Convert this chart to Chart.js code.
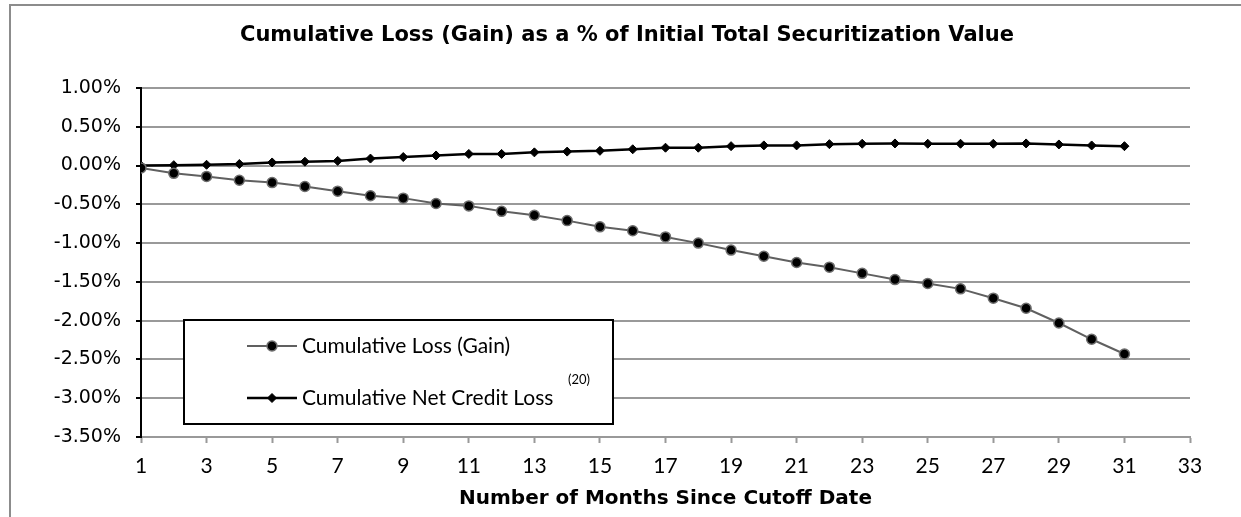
<!DOCTYPE html>
<html>
<head>
<meta charset="utf-8">
<title>Cumulative Loss (Gain)</title>
<script src="https://cdn.jsdelivr.net/npm/chart.js@4.4.1/dist/chart.umd.min.js"></script>
<style>
    html, body { margin: 0; padding: 0; background: #fff; }
    #wrap { position: relative; width: 1241px; height: 517px; }
</style>
</head>
<body>
<div id="wrap"><canvas id="chart"></canvas></div>
<script>
// Data (values in %)
const months = [1, 2, 3, 4, 5, 6, 7, 8, 9, 10, 11, 12, 13, 14, 15, 16, 17, 18, 19, 20,
    21, 22, 23, 24, 25, 26, 27, 28, 29, 30, 31];

const cumulativeLoss = [-0.03, -0.10, -0.14, -0.19, -0.22, -0.27, -0.33, -0.39, -0.42, -0.49,
    -0.52, -0.59, -0.64, -0.71, -0.79, -0.84, -0.92, -1.00, -1.09, -1.17,
    -1.25, -1.31, -1.39, -1.47, -1.52, -1.59, -1.71, -1.84, -2.03, -2.24, -2.43];

const netCreditLoss = [0.00, 0.005, 0.01, 0.02, 0.04, 0.05, 0.06, 0.09, 0.11, 0.13,
    0.15, 0.15, 0.17, 0.18, 0.19, 0.21, 0.23, 0.23, 0.25, 0.26,
    0.26, 0.276, 0.281, 0.285, 0.281, 0.281, 0.281, 0.285, 0.272, 0.259, 0.25];

const seriesNames = ['Cumulative Loss (Gain)', 'Cumulative Net Credit Loss'];
const footnote = '(20)';

const chartTitle = 'Cumulative Loss (Gain) as a % of Initial Total Securitization Value';
const xTitle = 'Number of Months Since Cutoff Date';

// x range / y range of the axes
const monthRange = [1, 33, 2];      // min, max, step
const percentRange = [-3.5, 1, 0.5];

const toPoints = (vals) => vals.map((v, i) => ({ x: months[i], y: v }));

// grey frame along the top and left edge, plus the title
// (the source centres the title a bit off the canvas middle, so it is drawn here)
const framePlugin = {
    id: 'frame',
    beforeDraw(chart, args, opts) {
        const ctx = chart.ctx;
        ctx.save();
        ctx.fillStyle = '#fff';
        ctx.fillRect(0, 0, chart.width, chart.height);
        ctx.strokeStyle = '#8c8c8c';
        ctx.lineWidth = 2;
        ctx.beginPath();
        ctx.moveTo(10, chart.height);
        ctx.lineTo(10, 5);
        ctx.lineTo(chart.width, 5);
        ctx.stroke();

        ctx.fillStyle = '#000';
        ctx.font = opts.font;
        ctx.textAlign = 'center';
        ctx.textBaseline = 'middle';
        ctx.fillText(opts.text, opts.at[0], opts.at[1]);
        ctx.restore();
    }
};

// boxed legend sitting inside the plot, bottom left
const boxLegend = {
    id: 'boxLegend',
    afterDatasetsDraw(chart, args, opts) {
        const ctx = chart.ctx;
        const b = opts.box;
        ctx.save();
        ctx.fillStyle = '#fff';
        ctx.fillRect(b.x, b.y, b.w, b.h);
        ctx.strokeStyle = '#000';
        ctx.lineWidth = 2;
        ctx.strokeRect(b.x, b.y, b.w, b.h);

        chart.data.datasets.forEach((ds, i) => {
            const y = opts.rows[i];
            ctx.strokeStyle = ds.borderColor;
            ctx.lineWidth = ds.borderWidth;
            ctx.beginPath();
            ctx.moveTo(opts.lineX[0], y);
            ctx.lineTo(opts.lineX[1], y);
            ctx.stroke();

            ctx.fillStyle = ds.pointBackgroundColor;
            ctx.strokeStyle = ds.pointBorderColor;
            ctx.lineWidth = ds.pointBorderWidth;
            Chart.helpers.drawPoint(ctx, {
                pointStyle: ds.pointStyle,
                radius: ds.pointRadius,
                rotation: 0,
                borderWidth: ds.pointBorderWidth
            }, (opts.lineX[0] + opts.lineX[1]) / 2, y);

            ctx.fillStyle = '#000';
            ctx.font = opts.font;
            ctx.textAlign = 'left';
            ctx.textBaseline = 'middle';
            ctx.fillText(ds.label, opts.textX, y);
        });

        ctx.font = opts.noteFont;
        ctx.fillText(opts.note, opts.noteAt[0], opts.noteAt[1]);
        ctx.restore();
    }
};

new Chart(document.getElementById('chart'), {
    type: 'line',
    data: {
        datasets: [
            {
                label: seriesNames[0],
                data: toPoints(cumulativeLoss),
                borderColor: '#606060',
                borderWidth: 2,
                pointStyle: 'circle',
                pointRadius: 5,
                pointBackgroundColor: '#000',
                pointBorderColor: '#6e6e6e',
                pointBorderWidth: 1.5,
                tension: 0
            },
            {
                label: seriesNames[1],
                data: toPoints(netCreditLoss),
                borderColor: '#000',
                borderWidth: 2.5,
                pointStyle: 'rectRot',
                pointRadius: 4.5,
                pointBackgroundColor: '#000',
                pointBorderColor: '#000',
                pointBorderWidth: 1,
                tension: 0
            }
        ]
    },
    options: {
        responsive: true,
        maintainAspectRatio: false,
        animation: false,
        layout: { padding: { left: 13, right: 51, top: 88, bottom: 0 } },
        plugins: {
            legend: { display: false },
            tooltip: { enabled: false },
            frame: {
                text: chartTitle,
                font: 'bold 21px "DejaVu Sans"',
                at: [627, 36]
            },
            boxLegend: {
                box: { x: 184, y: 320, w: 429, h: 104 },
                rows: [346, 398],
                lineX: [247, 297],
                textX: 302,
                font: '21px Lato',
                note: footnote,
                noteFont: '13px Lato',
                noteAt: [568, 380]
            }
        },
        scales: {
            x: {
                type: 'linear',
                min: monthRange[0],
                max: monthRange[1],
                afterFit(scale) { scale.height = 80; },
                border: { color: '#999', width: 2 },
                grid: {
                    drawOnChartArea: false,
                    drawTicks: true,
                    tickLength: 6,
                    tickColor: '#999',
                    tickWidth: 2
                },
                ticks: {
                    stepSize: monthRange[2],
                    color: '#000',
                    padding: 11,
                    maxRotation: 0,
                    autoSkip: false,
                    font: { family: 'Lato', size: 21 }
                },
                title: {
                    display: true,
                    text: xTitle,
                    color: '#000',
                    font: { family: 'DejaVu Sans', size: 20, weight: 'bold' },
                    padding: { top: 0, bottom: 6 }
                }
            },
            y: {
                min: percentRange[0],
                max: percentRange[1],
                afterFit(scale) { scale.width = 128; },
                border: { color: '#000', width: 2 },
                grid: {
                    color: '#999',
                    lineWidth: 2,
                    drawTicks: true,
                    tickLength: 5,
                    tickColor: '#000',
                    tickWidth: 2
                },
                ticks: {
                    stepSize: percentRange[2],
                    color: '#000',
                    padding: 15,
                    font: { family: 'DejaVu Sans', size: 19 },
                    callback: (v) => v.toFixed(2) + '%'
                }
            }
        }
    },
    plugins: [framePlugin, boxLegend]
});
</script>
</body>
</html>
